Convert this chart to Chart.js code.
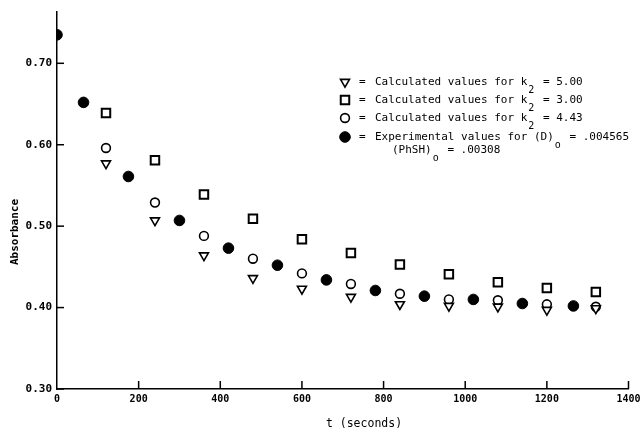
<!DOCTYPE html>
<html>
<head>
<meta charset="utf-8">
<script src="https://cdn.jsdelivr.net/npm/chart.js@4/dist/chart.umd.min.js"></script>
<style>
  html, body { margin: 0; padding: 0; background: #fff; }
  #wrap { width: 643px; height: 433px; }
</style>
</head>
<body>
<div id="wrap"><canvas id="chart" width="643" height="433"></canvas></div>
<script>
// values
const expTimes = [0, 65, 175, 300, 420, 540, 660, 780, 900, 1020, 1140, 1265];
const expValues = [0.735, 0.652, 0.561, 0.507, 0.473, 0.452, 0.434, 0.421, 0.414, 0.410, 0.405, 0.402];

const calcTimes = [120, 240, 360, 480, 600, 720, 840, 960, 1080, 1200, 1320];
const k500Values = [0.577, 0.507, 0.464, 0.436, 0.423, 0.413, 0.404, 0.402, 0.401, 0.397, 0.399];
const k300Values = [0.639, 0.581, 0.539, 0.509, 0.484, 0.467, 0.453, 0.441, 0.431, 0.424, 0.419];
const k443Values = [0.596, 0.529, 0.488, 0.460, 0.442, 0.429, 0.417, 0.410, 0.409, 0.404, 0.401];

const xTicks = [0, 200, 400, 600, 800, 1000, 1200, 1400];
const yTicks = [0.30, 0.40, 0.50, 0.60, 0.70];

// legend lines: [main text, subscript, rest]
const legendLines = [
  ["Calculated values for k", "2", " = 5.00"],
  ["Calculated values for k", "2", " = 3.00"],
  ["Calculated values for k", "2", " = 4.43"],
  ["Experimental values for (D)", "o", " = .004565"],
  ["(PhSH)", "o", " = .00308"],
];
const yTitle = "Absorbance";
const xTitle = "t (seconds)";

const MONO = "'DejaVu Sans Mono', 'Liberation Mono', monospace";

const toPoints = (xs, ys) => xs.map((x, i) => ({ x, y: ys[i] }));

const markers = {
  k500: { pointStyle: "triangle", rotation: 180, radius: 5.2, fill: "#fff", borderWidth: 1.6 },
  k300: { pointStyle: "rect", rotation: 0, radius: 6, fill: "#fff", borderWidth: 2 },
  k443: { pointStyle: "circle", rotation: 0, radius: 4.4, fill: "#fff", borderWidth: 1.6 },
  exp: { pointStyle: "circle", rotation: 0, radius: 5.3, fill: "#000", borderWidth: 1 },
};

function dataset(label, pts, m) {
  return {
    label,
    data: pts,
    showLine: false,
    pointStyle: m.pointStyle,
    rotation: m.rotation,
    pointRadius: m.radius,
    pointHoverRadius: m.radius,
    pointBackgroundColor: m.fill,
    pointBorderColor: "#000",
    pointBorderWidth: m.borderWidth,
  };
}

const decor = {
  id: "decor",
  afterDraw(chart) {
    const ctx = chart.ctx;
    const xs = chart.scales.x;
    const ys = chart.scales.y;
    ctx.save();
    ctx.strokeStyle = "#000";
    ctx.fillStyle = "#000";
    ctx.lineWidth = 1.5;

    // inward tick marks
    yTicks.forEach((v) => {
      const py = ys.getPixelForValue(v);
      ctx.beginPath();
      ctx.moveTo(xs.left, py);
      ctx.lineTo(xs.left + 7, py);
      ctx.stroke();
    });
    xTicks.slice(1).forEach((v) => {
      const px = xs.getPixelForValue(v);
      ctx.beginPath();
      ctx.moveTo(px, ys.bottom);
      ctx.lineTo(px, ys.bottom - 8);
      ctx.stroke();
    });

    // axis titles
    ctx.font = "bold 11px " + MONO;
    ctx.textAlign = "center";
    ctx.textBaseline = "middle";
    ctx.save();
    ctx.translate(15, 232);
    ctx.rotate(-Math.PI / 2);
    ctx.fillText(yTitle, 0, 0);
    ctx.restore();
    ctx.font = "11.5px " + MONO;
    ctx.fillText(xTitle, 364, 424);

    // legend
    const legMarkers = [markers.k500, markers.k300, markers.k443, markers.exp];
    const rowY = [82, 100, 118, 137, 150];
    ctx.textAlign = "left";
    ctx.textBaseline = "middle";
    legendLines.forEach((line, i) => {
      const y = rowY[i];
      let x = i < 4 ? 375 : 392;
      if (i < 4) {
        const m = legMarkers[i];
        ctx.fillStyle = m.fill;
        ctx.strokeStyle = "#000";
        ctx.lineWidth = m.borderWidth;
        Chart.helpers.drawPoint(ctx, {
          pointStyle: m.pointStyle,
          rotation: m.rotation,
          radius: m.radius,
          borderWidth: m.borderWidth,
        }, 345, y);
        ctx.fillStyle = "#000";
        ctx.font = "11px " + MONO;
        ctx.fillText("=", 359, y);
      }
      ctx.fillStyle = "#000";
      ctx.font = "11px " + MONO;
      ctx.fillText(line[0], x, y);
      x += ctx.measureText(line[0]).width + 1;
      ctx.font = "10px " + MONO;
      ctx.fillText(line[1], x, y + 8);
      x += ctx.measureText(line[1]).width + 2;
      ctx.font = "11px " + MONO;
      ctx.fillText(line[2], x, y);
    });
    ctx.restore();
  },
};

new Chart(document.getElementById("chart"), {
  type: "scatter",
  data: {
    datasets: [
      dataset("Calculated values for k2 = 5.00", toPoints(calcTimes, k500Values), markers.k500),
      dataset("Calculated values for k2 = 3.00", toPoints(calcTimes, k300Values), markers.k300),
      dataset("Calculated values for k2 = 4.43", toPoints(calcTimes, k443Values), markers.k443),
      dataset("Experimental values", toPoints(expTimes, expValues), markers.exp),
    ],
  },
  options: {
    responsive: false,
    animation: false,
    events: [],
    layout: { padding: { top: 12, right: 14.5, left: 0, bottom: 0 } },
    plugins: {
      legend: { display: false },
      tooltip: { enabled: false },
    },
    scales: {
      x: {
        type: "linear",
        min: 0,
        max: 1400,
        grid: { display: false, drawTicks: false },
        border: { display: true, color: "#000", width: 1.5 },
        afterBuildTicks: (s) => { s.ticks = xTicks.map((v) => ({ value: v })); },
        afterFit: (s) => { s.height = 44; s.paddingLeft = 0; s.paddingRight = 0; },
        ticks: {
          color: "#000",
          padding: 4,
          maxRotation: 0,
          font: { family: MONO, size: 10, weight: "bold" },
          callback: (v) => String(v),
        },
      },
      y: {
        type: "linear",
        min: 0.30,
        max: 0.763,
        grid: { display: false, drawTicks: false },
        border: { display: true, color: "#000", width: 1.5 },
        afterBuildTicks: (s) => { s.ticks = yTicks.map((v) => ({ value: v })); },
        afterFit: (s) => { s.width = 57; s.paddingTop = 0; s.paddingBottom = 0; },
        ticks: {
          color: "#000",
          padding: 5,
          font: { family: MONO, size: 11, weight: "bold" },
          callback: (v) => v.toFixed(2),
        },
      },
    },
  },
  plugins: [decor],
});
</script>
</body>
</html>
